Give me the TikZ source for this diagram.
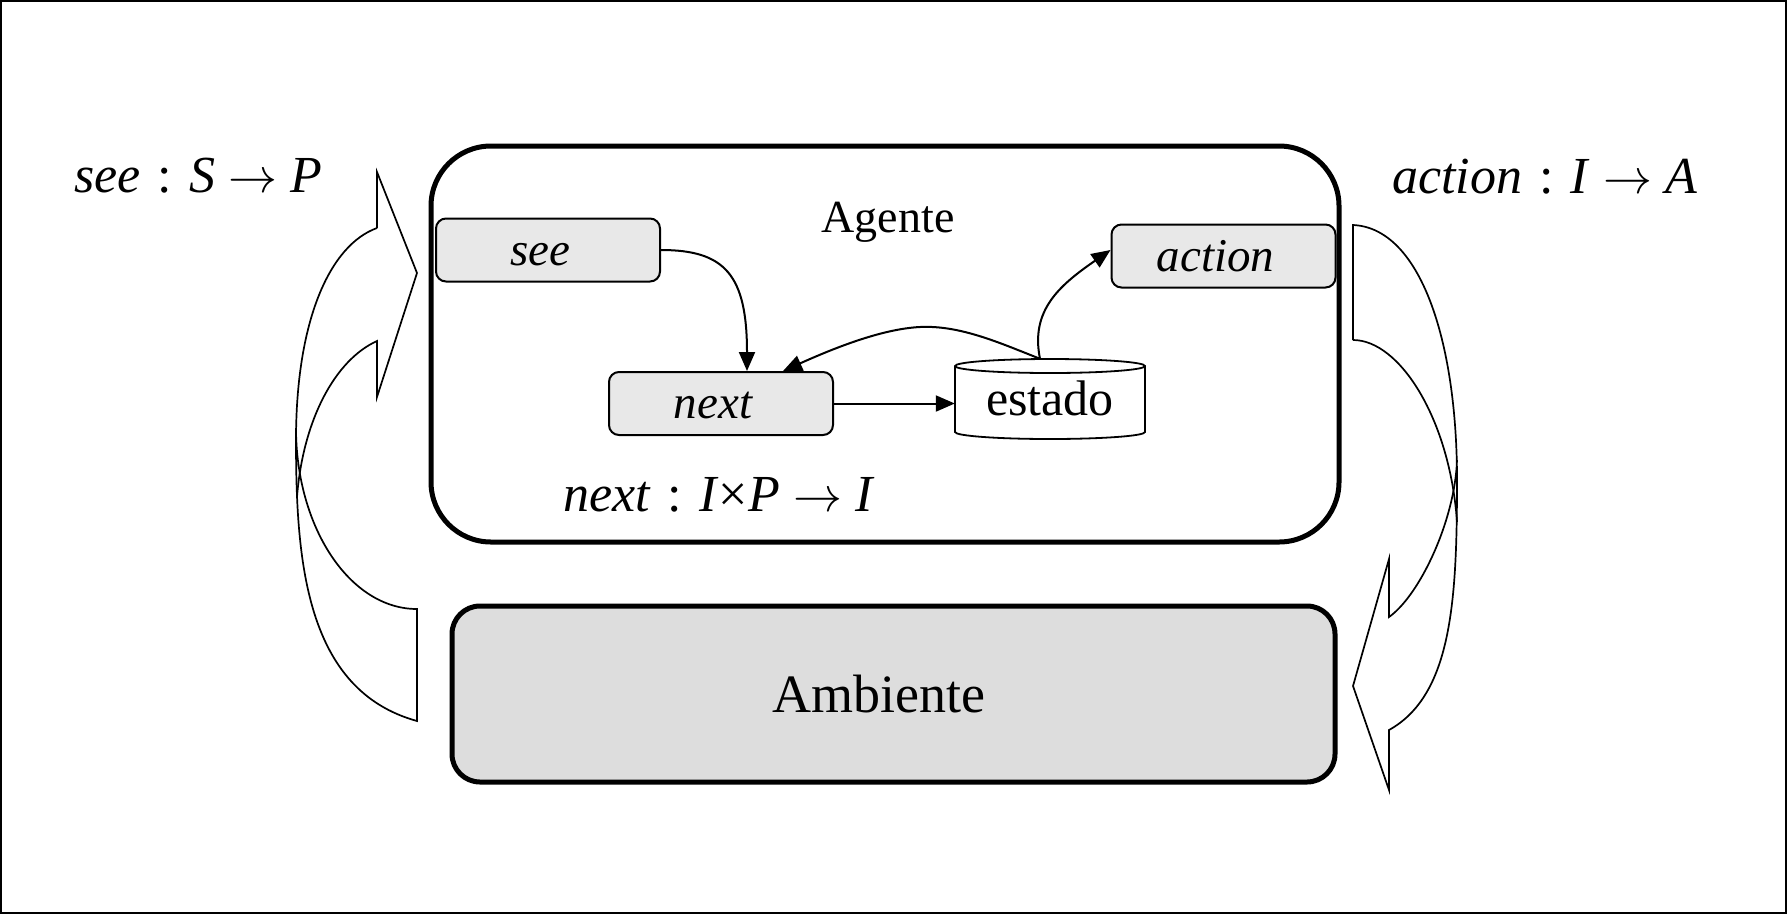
\documentclass[tikz,border=0pt]{standalone}
\usepackage{graphicx}
\usepackage{fontspec}
\setmainfont{Liberation Serif}
\usetikzlibrary{arrows.meta}
\definecolor{boxgray}{HTML}{E8E8E8}
\definecolor{envgray}{HTML}{DDDDDD}
\newcommand\maparrow{\resizebox{49pt}{!}{$\rightarrow$}}
\newcommand\sigcolon{\hspace{4pt} : }
\begin{document}
\begin{tikzpicture}[x=1pt,y=-1pt,
  lbl/.style={inner sep=0pt, font=\fontsize{52}{60}\selectfont},
  fnbox/.style={draw, line width=2pt, fill=boxgray, rounded corners=10pt,
    minimum width=224pt, minimum height=63pt, inner sep=0pt,
    text height=33pt, text depth=3pt, font=\fontsize{47}{54}\selectfont\itshape,
    execute at begin node=\hspace*{-8pt}, execute at end node=\hspace*{8pt}},
  link/.style={line width=2pt, -{Triangle[length=19pt,width=16pt]}},
  bandline/.style={line width=1.7pt, line join=miter},
]
\useasboundingbox (0,0) rectangle (1787,914);
\draw[line width=2pt] (1,1) rectangle (1786,913);

% agent container and environment
\node[draw, line width=5pt, rounded corners=60pt, minimum width=908pt,
  minimum height=396pt] (agente) at (885,344) {};
\node[draw, line width=5pt, fill=envgray, rounded corners=28pt,
  minimum width=883pt, minimum height=176pt] (ambiente) at (893.5,694) {};
\node[font=\fontsize{46}{54}\selectfont, anchor=base, inner sep=0pt] (agtitle) at (888,232) {Agente};
\node[font=\fontsize{54}{60}\selectfont, anchor=base, inner sep=0pt] (envtitle) at (879,712) {Ambiente};

% function boxes
\node[fnbox] (see) at (548,250) {see};
\node[fnbox] (next) at (721,403.5) {next};
\node[fnbox] (action) at (1223.5,256) {action};

% state store (cylinder)
\draw[line width=1.8pt, fill=white] (955,366) -- (955,432)
  arc[start angle=180, end angle=360, x radius=95pt, y radius=7pt]
  -- (1145,366)
  arc[start angle=0, end angle=180, x radius=95pt, y radius=7pt] -- cycle;
\draw[line width=1.8pt] (955,366)
  arc[start angle=180, end angle=360, x radius=95pt, y radius=7pt];
\node[minimum width=190pt, minimum height=80pt, inner sep=0pt,
  text height=35pt, text depth=3pt, font=\fontsize{50}{56}\selectfont] (estado) at (1050,399) {estado};

% connectors
\draw[link] (see.east) .. controls (725,250) and (747,275) .. ([xshift=26pt]next.north);
\draw[link] (next.east) -- (next.east -| estado.west);
\draw[link] ([xshift=-10pt]estado.north) .. controls (1000,343) and (960,325) .. (920,327)
  .. controls (880,329) and (830,350) .. ([xshift=62pt]next.north);
\draw[link] ([xshift=-10pt]estado.north) .. controls (1030,310) and (1060,285) .. ([yshift=6pt]action.west);

% curved band arrow on the left (environment -> agent)
\draw[bandline] (377,228) .. controls (330,245) and (296,320) .. (296,440)
  .. controls (296,560) and (305,690) .. (417,721) -- (417,609)
  arc[start angle=270, end angle=180, x radius=121pt, y radius=181pt];
\draw[bandline] (377,228) -- (377,172) -- (417,273) -- (377,397) -- (377,341)
  .. controls (335,360) and (303,420) .. (297,497);

% curved band arrow on the right (agent -> environment)
\draw[bandline] (1353,340) -- (1353,225) .. controls (1420,228) and (1457,340) .. (1457,480)
  .. controls (1457,600) and (1452,695) .. (1389,730)
  -- (1389,790) -- (1353,686) -- (1389,559) -- (1389,617)
  .. controls (1420,595) and (1455,520) .. (1457,460);
\draw[bandline] (1353,340) .. controls (1400,340) and (1450,420) .. (1457,522);

% function signatures
\node[lbl, anchor=base west] (seefn) at (74,192) {\textit{see}\sigcolon\textit{S} \maparrow\ \textit{P}};
\node[lbl, anchor=base west] (actionfn) at (1392,193) {\textit{action}\sigcolon\textit{I} \maparrow\ \textit{A}};
\node[lbl, anchor=base west] (nextfn) at (563,511) {\textit{next}\sigcolon\textit{I}×\textit{P} \maparrow\ \textit{I}};
\end{tikzpicture}
\end{document}
